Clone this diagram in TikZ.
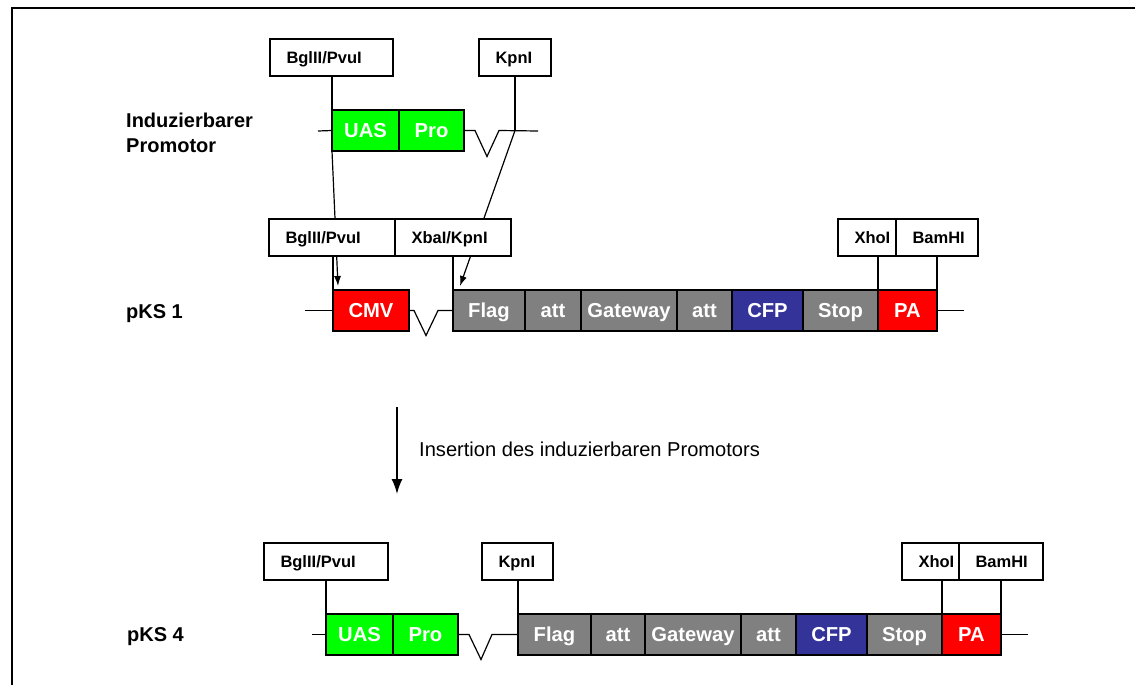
\documentclass[tikz,border=0pt]{standalone}
\usepackage{fontspec}
\setmainfont{Liberation Sans}
\usetikzlibrary{arrows.meta}
\pgfdeclarelayer{back}
\pgfsetlayers{back,main}
\definecolor{gfp}{HTML}{00FF00}
\definecolor{prred}{HTML}{FF0000}
\definecolor{elgray}{HTML}{808080}
\definecolor{cfpblue}{HTML}{333399}

\begin{document}
\begin{tikzpicture}[x=1pt,y=-1pt,
  wire/.style={draw=black, line width=1.2pt},
  lbl/.style={draw=black, line width=1.2pt, fill=white, inner xsep=0pt, outer sep=0pt,
    anchor=north west, minimum height=37pt, text width=#1, align=left,
    text height=11.8pt, text depth=0pt,
    execute at begin node=\hspace*{16.5pt},
    font=\fontsize{16.5}{18}\selectfont\bfseries},
  blk/.style={draw=black, line width=1.2pt, inner sep=0pt, outer sep=0pt,
    anchor=north west, minimum height=41pt, minimum width=#1, text=white,
    text height=14.5pt, text depth=0pt,
    font=\fontsize{20.2}{22}\selectfont\bfseries},
  title/.style={anchor=west, inner sep=0pt, align=left,
    font=\fontsize{20}{25}\selectfont\bfseries},
  cut/.style={wire, -{Latex[length=10pt,width=7pt]}}
]
\useasboundingbox (0,0) rectangle (1135,685);

% outer frame (open towards right and bottom)
\draw[line width=2pt] (11.5,685) -- (11.5,8.5) -- (1135,8.5);

% ---------- inducible promoter ----------
\node[title] (indA) at (126,133) {Induzierbarer\\Promotor};
\node[lbl=123pt] (bgA) at (270,39) {BglII/PvuI};
\node[lbl=72pt] (kpA) at (479,39) {KpnI};
\node[blk=67pt, fill=gfp] (uasA) at (332,110) {UAS};
\node[blk=65pt, fill=gfp] (proA) at (uasA.north east) {Pro};
\coordinate (lA) at (318,131);
\coordinate (rA) at (538,131);
\draw[wire] (lA) -- (uasA.west);
\draw[wire] (proA.east) -- ++(11,0) -- ++(12,26) -- ++(12,-26) -- (rA);
\draw[wire] (uasA.north west |- bgA.south) -- (uasA.north west);
\draw[wire] (kpA.south) -- (kpA.south |- proA.east);

% ---------- pKS 1 ----------
\node[title] (pksB) at (126,314) {pKS 1};
\node[lbl=126pt] (bgB) at (269,219) {BglII/PvuI};
\node[lbl=116pt] (xkB) at (bgB.north east) {XbaI/KpnI};
\node[lbl=58pt] (xhB) at (838,219) {XhoI};
\node[lbl=82pt] (bhB) at (xhB.north east) {BamHI};
\node[blk=76pt, fill=prred] (cmvB) at (333,290) {CMV};
\node[blk=72pt, fill=elgray] (flagB) at (453,290) {Flag};
\node[blk=56pt, fill=elgray] (att1B) at (flagB.north east) {att};
\node[blk=96pt, fill=elgray] (gwB) at (att1B.north east) {Gateway};
\node[blk=55pt, fill=elgray] (att2B) at (gwB.north east) {att};
\node[blk=71pt, fill=cfpblue] (cfpB) at (att2B.north east) {CFP};
\node[blk=75pt, fill=elgray] (stopB) at (cfpB.north east) {Stop};
\node[blk=59pt, fill=prred] (paB) at (stopB.north east) {PA};
\coordinate (lB) at (305,310.5);
\coordinate (rB) at (964,310.5);
\draw[wire] (lB) -- (cmvB.west);
\draw[wire] (cmvB.east) -- ++(5,0) -- ++(12,25) -- ++(12,-25) -- (flagB.west);
\draw[wire] (paB.east) -- (rB);
\draw[wire] (cmvB.north west |- bgB.south) -- (cmvB.north west);
\draw[wire] (flagB.north west |- xkB.south) -- (flagB.north west);
\draw[wire] (paB.north west |- xhB.south) -- (paB.north west);
\draw[wire] (paB.north east |- bhB.south) -- (paB.north east);

% cloning of the promoter fragment into pKS 1
\coordinate (tipB1) at (338,286);
\coordinate (tipB2) at (460,286);
\begin{pgfonlayer}{back}
\draw[cut] (uasA.south west) -- (tipB1);
\draw[cut] (kpA.south |- proA.east) -- (tipB2);
\end{pgfonlayer}

% ---------- step arrow ----------
\coordinate (arT) at (397,407);
\coordinate (arH) at (397,494);
\draw[line width=1.6pt, -{Latex[length=15pt,width=11pt]}] (arT) -- (arH);
\node[anchor=west, inner sep=0pt, font=\fontsize{20.1}{22}\selectfont] (ins) at (419,449)
  {Insertion des induzierbaren Promotors};

% ---------- pKS 4 ----------
\node[title] (pksC) at (127,637) {pKS 4};
\node[lbl=124pt] (bgC) at (264,543) {BglII/PvuI};
\node[lbl=71pt] (kpC) at (482,543) {KpnI};
\node[lbl=57pt] (xhC) at (902,543) {XhoI};
\node[lbl=84pt] (bhC) at (xhC.north east) {BamHI};
\node[blk=67pt, fill=gfp] (uasC) at (326,614) {UAS};
\node[blk=65pt, fill=gfp] (proC) at (uasC.north east) {Pro};
\node[blk=73pt, fill=elgray] (flagC) at (518,614) {Flag};
\node[blk=54pt, fill=elgray] (att1C) at (flagC.north east) {att};
\node[blk=96pt, fill=elgray] (gwC) at (att1C.north east) {Gateway};
\node[blk=55pt, fill=elgray] (att2C) at (gwC.north east) {att};
\node[blk=71pt, fill=cfpblue] (cfpC) at (att2C.north east) {CFP};
\node[blk=75pt, fill=elgray] (stopC) at (cfpC.north east) {Stop};
\node[blk=59pt, fill=prred] (paC) at (stopC.north east) {PA};
\coordinate (lC) at (312,634.5);
\coordinate (rC) at (1028,634.5);
\draw[wire] (lC) -- (uasC.west);
\draw[wire] (proC.east) -- ++(11,0) -- ++(12,25) -- ++(11,-25) -- (flagC.west);
\draw[wire] (paC.east) -- (rC);
\draw[wire] (uasC.north west |- bgC.south) -- (uasC.north west);
\draw[wire] (flagC.north west |- kpC.south) -- (flagC.north west);
\draw[wire] (paC.north west |- xhC.south) -- (paC.north west);
\draw[wire] (paC.north east |- bhC.south) -- (paC.north east);
\end{tikzpicture}
\end{document}
